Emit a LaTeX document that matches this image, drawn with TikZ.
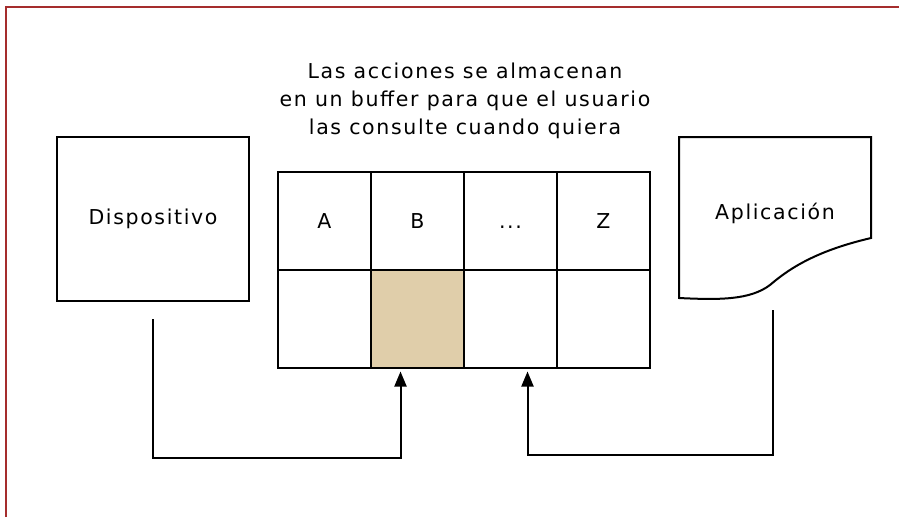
\documentclass[tikz,border=0pt]{standalone}
\usepackage{fontspec}
\setmainfont{DejaVu Sans}[LetterSpace=8]
\usetikzlibrary{arrows.meta,positioning}
\definecolor{borde}{RGB}{165,45,45}
\definecolor{marcado}{RGB}{224,206,170}
\tikzstyle{caja}=[draw,line width=2pt,minimum width=192pt,minimum height=164pt,inner sep=0pt]
\tikzstyle{celda}=[draw,line width=2pt,minimum width=93pt,minimum height=98pt,inner sep=0pt,outer sep=0pt,text height=15pt,text depth=0pt]
\tikzstyle{flecha}=[line width=2pt,-{Triangle[length=15pt,width=12pt]}]

\begin{document}
\begin{tikzpicture}[x=1pt,y=-1pt,font=\fontsize{20.5}{28}\selectfont]
\useasboundingbox (0,0) rectangle (899,517);
% marco
\draw[borde,line width=2.5pt] (6,517) -- (6,7) -- (899,7);
% texto superior
\node[align=center] (titulo) at (465,101) {Las acciones se almacenan\\en un buffer para que el usuario\\las consulte cuando quiera};
% dispositivo
\node[caja] (disp) at (153,219) {Dispositivo};
% buffer
\node[celda] (c1) at (324.5,220.5) {A};
\node[celda,right=0pt of c1] (c2) {B};
\node[celda,right=0pt of c2] (c3) {...};
\node[celda,right=0pt of c3] (c4) {Z};
\node[celda,below=0pt of c1] (d1) {};
\node[celda,fill=marcado,below=0pt of c2] (d2) {};
\node[celda,below=0pt of c3] (d3) {};
\node[celda,below=0pt of c4] (d4) {};
% aplicacion
\draw[line width=2pt] (679,137) -- (871,137) -- (871,238)
	.. controls (820,250) and (792,266) .. (770,285)
	.. controls (750,300) and (720,300) .. (679,298) -- cycle;
\node (apl) at (775,213) {Aplicación};
\coordinate (asal) at (773,310);
% conexiones
\draw[flecha] ([yshift=-17pt]disp.south) -- ++(0,139) -| ([xshift=-17pt,yshift=-4pt]d2.south);
\draw[flecha] (asal) -- ++(0,145) -| ([xshift=17pt,yshift=-4pt]d3.south);
\end{tikzpicture}
\end{document}
